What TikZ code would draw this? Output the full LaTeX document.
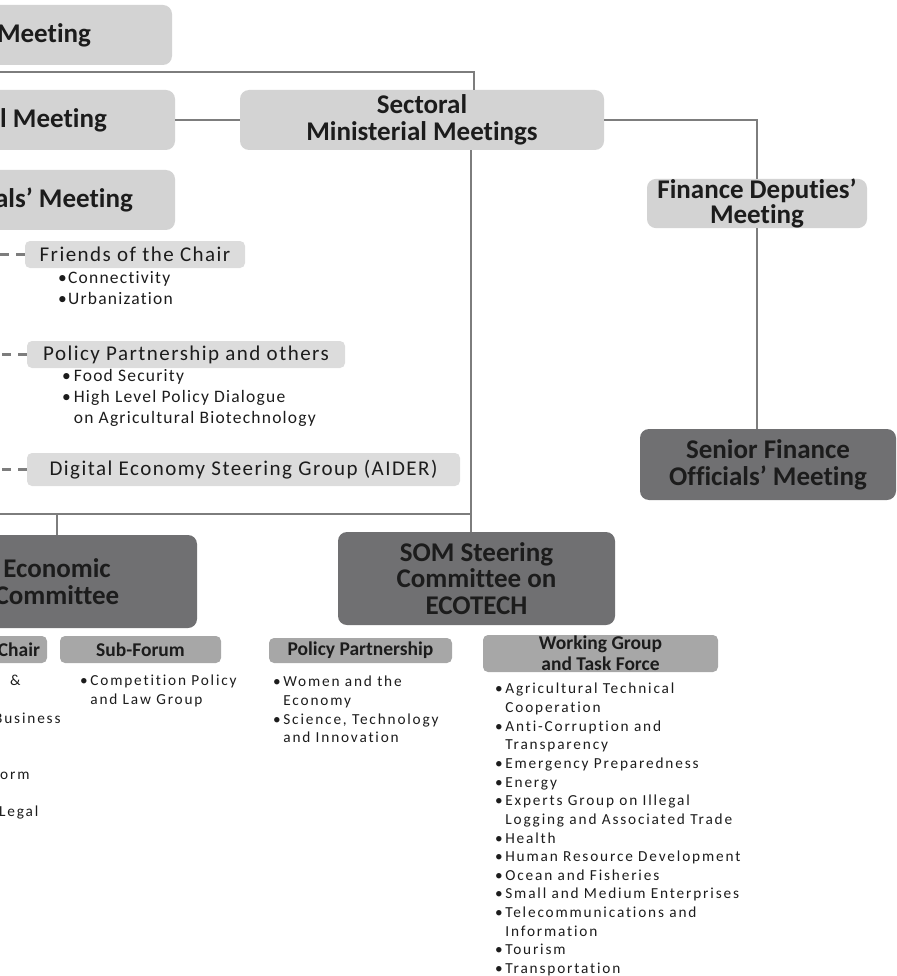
\documentclass[tikz,border=0pt]{standalone}
\usepackage{fontspec}
\setmainfont{Carlito}[Ligatures=NoCommon]
\newfontfamily\tagfont{Carlito}[LetterSpace=7,Ligatures=NoCommon]
\newfontfamily\listfont{Carlito}[LetterSpace=12,Ligatures=NoCommon]
\usetikzlibrary{positioning,calc}
\definecolor{boxlight}{HTML}{D3D3D3}
\definecolor{boxtag}{HTML}{DCDCDC}
\definecolor{boxmid}{HTML}{A7A7A7}
\definecolor{boxdark}{HTML}{707072}
\definecolor{linkgray}{HTML}{7D7D7D}
\definecolor{inkdark}{HTML}{1C1C1C}
\newcommand{\bul}{•\,}
\newcommand{\ind}{\hphantom{•\,}}

\begin{document}
\begin{tikzpicture}[x=1pt,y=-1pt,
	headbox/.style={rounded corners=9pt,inner sep=0pt,align=center,text=inkdark,
		font=\bfseries\fontsize{27}{27}\selectfont},
	lightbox/.style={headbox,fill=boxlight},
	darkbox/.style={headbox,fill=boxdark},
	midbox/.style={rounded corners=5pt,fill=boxmid,inner sep=0pt,align=center,text=inkdark,
		font=\bfseries\fontsize{19.5}{21}\selectfont},
	tagbox/.style={rounded corners=5pt,fill=boxtag,inner sep=0pt,text=inkdark,
		font=\tagfont\fontsize{21}{24}\selectfont}]
	\tikzset{sublist/.style={anchor=north west,inner sep=0pt,align=left,text=inkdark,
		font=\tagfont\fontsize{17.5}{21}\selectfont,execute at begin node=\strut}}
	\tikzset{itemlist/.style={anchor=north west,inner sep=0pt,align=left,text=inkdark,
		font=\listfont\fontsize{15.3}{18.65}\selectfont,execute at begin node=\strut}}
	\tikzset{link/.style={draw=linkgray,line width=2.7pt}}
	\tikzset{dashlink/.style={link,dash pattern=on 9pt off 7pt}}
	\clip (0,0) rectangle (896,976);
	\node[lightbox,minimum width=256,minimum height=60] (leaders) at (44,35) {Meeting};
	\node[lightbox,minimum width=243,minimum height=60] (mini) at (53.5,120) {l Meeting};
	\node[lightbox,minimum width=222,minimum height=60] (senoff) at (64,200) {als’ Meeting};
	\node[lightbox,minimum width=364,minimum height=60] (sectoral) at (422,120) {Sectoral\\Ministerial Meetings};
	\node[lightbox,minimum width=220,minimum height=47,font=\bfseries\fontsize{27}{25}\selectfont] (fdm) at (757,203.5) {Finance Deputies’\\Meeting};
	\node[darkbox,minimum width=256,minimum height=71] (sfom) at (768,464.5) {Senior Finance\\Officials’ Meeting};
	\node[tagbox,minimum width=220,minimum height=27] (friends) at (135,254.5) {Friends of the Chair};
	\node[sublist] (friendsitems) at (58,271) {•Connectivity\\•Urbanization};
	\node[tagbox,minimum width=318,minimum height=27] (ppothers) at (186,354.5) {Policy Partnership and others};
	\node[sublist] (ppitems) at (62,369) {\bul Food Security\\\bul High Level Policy Dialogue\\\ind on Agricultural Biotechnology};
	\node[tagbox,minimum width=433,minimum height=33] (digital) at (243.5,469.5) {Digital Economy Steering Group (AIDER)};
	\node[darkbox,minimum width=280,minimum height=93] (econ) at (57,581.5) {Economic\\Committee};
	\node[darkbox,minimum width=277,minimum height=93,font=\bfseries\fontsize{27}{26.5}\selectfont] (som) at (476.5,578.5) {SOM Steering\\Committee on\\ECOTECH};
	\node[midbox,minimum width=56,minimum height=27] (chair) at (19,649.5) {Chair};
	\node[midbox,minimum width=161,minimum height=27] (subforum) at (140.5,649.5) {Sub-Forum};
	\node[midbox,minimum width=183,minimum height=25] (polpart) at (360.5,650.5) {Policy Partnership};
	\node[midbox,minimum width=235,minimum height=37] (wgtf) at (600.5,653.5) {Working Group\\and Task Force};
	\node[itemlist] (chairamp) at (10,672) {\&};
	\node[itemlist] (chairbiz) at (-6,710) {Business};
	\node[itemlist] (chairorm) at (0,766) {orm};
	\node[itemlist] (chairlegal) at (-1,803) {Legal};
	\node[itemlist] (sfitems) at (80,675) {\bul Competition Policy\\\ind and Law Group};
	\node[itemlist] (ppartitems) at (273,676) {\bul Women and the\\\ind Economy\\\bul Science, Technology\\\ind and Innovation};
	\node[itemlist] (wgitems) at (495,683) {\bul Agricultural Technical\\\ind Cooperation\\\bul Anti-Corruption and\\\ind Transparency\\\bul Emergency Preparedness\\\bul Energy\\\bul Experts Group on Illegal\\\ind Logging and Associated Trade\\\bul Health\\\bul Human Resource Development\\\bul Ocean and Fisheries\\\bul Small and Medium Enterprises\\\bul Telecommunications and\\\ind Information\\\bul Tourism\\\bul Transportation};
	\coordinate (ldrline) at (-20,72);
	\coordinate (brline) at (-20,514);
	\coordinate (dashend) at (-20,0);
	\coordinate (trunk) at ([xshift=49pt]sectoral.south);
	\draw[link] (ldrline) -| ([xshift=52pt]sectoral.north);
	\draw[link] (mini.east) -- (sectoral.west);
	\draw[link] (sectoral.east) -| (fdm.north);
	\draw[link] (fdm.south) -- (fdm.south |- sfom.north);
	\draw[link] (trunk) -- (trunk |- som.north);
	\draw[link] (brline) -- (brline -| trunk);
	\draw[link] (brline -| econ.north) -- (econ.north);
	\draw[dashlink] (friends.west) -- (friends.west -| dashend);
	\draw[dashlink] (ppothers.west) -- (ppothers.west -| dashend);
	\draw[dashlink] (digital.west) -- (digital.west -| dashend);
\end{tikzpicture}
\end{document}
